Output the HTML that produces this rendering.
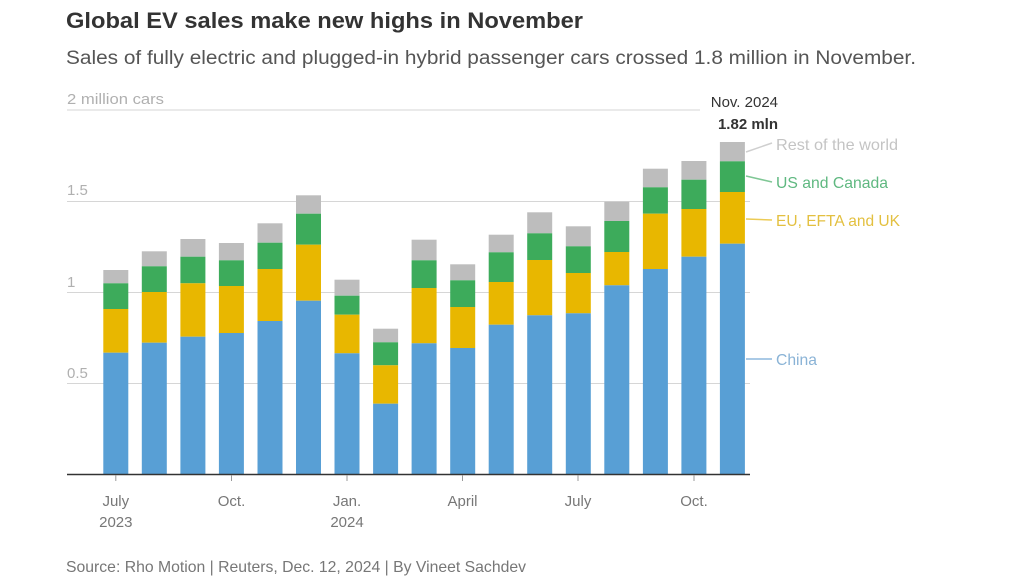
<!DOCTYPE html>
<html><head><meta charset="utf-8"><style>
html,body{margin:0;padding:0;background:#fff;}
svg{display:block;font-family:"Liberation Sans",sans-serif;}
.g{fill:#bdbdbd}.n{fill:#3dab5b}.y{fill:#e8b700}.b{fill:#589fd5}
</style></head><body>
<svg width="1024" height="576" viewBox="0 0 1024 576" xmlns="http://www.w3.org/2000/svg">
<rect width="1024" height="576" fill="#fff"/>
<text x="66" y="28" font-size="22" font-weight="bold" fill="#333" textLength="517" lengthAdjust="spacingAndGlyphs">Global EV sales make new highs in November</text>
<text x="66" y="64" font-size="19" fill="#555" textLength="850" lengthAdjust="spacingAndGlyphs">Sales of fully electric and plugged-in hybrid passenger cars crossed 1.8 million in November.</text>
<g stroke="#d6d6d6" stroke-width="1">
<line x1="67" y1="110" x2="700" y2="110"/>
<line x1="67" y1="201.5" x2="750" y2="201.5"/>
<line x1="67" y1="292.5" x2="750" y2="292.5"/>
<line x1="67" y1="383.5" x2="750" y2="383.5"/>
</g>
<g font-size="15" fill="#b0b0b0">
<text x="67" y="104" textLength="97" lengthAdjust="spacingAndGlyphs">2 million cars</text>
<text x="67" y="195">1.5</text>
<text x="67" y="287">1</text>
<text x="67" y="378">0.5</text>
</g>
<g transform="translate(103.3,0)"><rect class="g" x="0" width="25" y="270" height="13.3"/><rect class="n" x="0" width="25" y="283.3" height="25.7"/><rect class="y" x="0" width="25" y="309" height="43.7"/><rect class="b" x="0" width="25" y="352.7" height="121.3"/></g>
<g transform="translate(141.8,0)"><rect class="g" x="0" width="25" y="251.3" height="15"/><rect class="n" x="0" width="25" y="266.3" height="25.7"/><rect class="y" x="0" width="25" y="292" height="50.7"/><rect class="b" x="0" width="25" y="342.7" height="131.3"/></g>
<g transform="translate(180.4,0)"><rect class="g" x="0" width="25" y="239" height="17.7"/><rect class="n" x="0" width="25" y="256.7" height="26.6"/><rect class="y" x="0" width="25" y="283.3" height="53.4"/><rect class="b" x="0" width="25" y="336.7" height="137.3"/></g>
<g transform="translate(218.9,0)"><rect class="g" x="0" width="25" y="243" height="17.3"/><rect class="n" x="0" width="25" y="260.3" height="25.7"/><rect class="y" x="0" width="25" y="286" height="47"/><rect class="b" x="0" width="25" y="333" height="141"/></g>
<g transform="translate(257.5,0)"><rect class="g" x="0" width="25" y="223.3" height="19.4"/><rect class="n" x="0" width="25" y="242.7" height="26.3"/><rect class="y" x="0" width="25" y="269" height="52"/><rect class="b" x="0" width="25" y="321" height="153"/></g>
<g transform="translate(296,0)"><rect class="g" x="0" width="25" y="195.3" height="18.4"/><rect class="n" x="0" width="25" y="213.7" height="31"/><rect class="y" x="0" width="25" y="244.7" height="56"/><rect class="b" x="0" width="25" y="300.7" height="173.3"/></g>
<g transform="translate(334.5,0)"><rect class="g" x="0" width="25" y="279.7" height="16"/><rect class="n" x="0" width="25" y="295.7" height="19"/><rect class="y" x="0" width="25" y="314.7" height="38.6"/><rect class="b" x="0" width="25" y="353.3" height="120.7"/></g>
<g transform="translate(373.1,0)"><rect class="g" x="0" width="25" y="328.7" height="13.6"/><rect class="n" x="0" width="25" y="342.3" height="23"/><rect class="y" x="0" width="25" y="365.3" height="38.4"/><rect class="b" x="0" width="25" y="403.7" height="70.3"/></g>
<g transform="translate(411.6,0)"><rect class="g" x="0" width="25" y="239.7" height="20.6"/><rect class="n" x="0" width="25" y="260.3" height="27.7"/><rect class="y" x="0" width="25" y="288" height="55.3"/><rect class="b" x="0" width="25" y="343.3" height="130.7"/></g>
<g transform="translate(450.2,0)"><rect class="g" x="0" width="25" y="264.3" height="16"/><rect class="n" x="0" width="25" y="280.3" height="26.7"/><rect class="y" x="0" width="25" y="307" height="41"/><rect class="b" x="0" width="25" y="348" height="126"/></g>
<g transform="translate(488.7,0)"><rect class="g" x="0" width="25" y="234.7" height="17.6"/><rect class="n" x="0" width="25" y="252.3" height="29.7"/><rect class="y" x="0" width="25" y="282" height="42.7"/><rect class="b" x="0" width="25" y="324.7" height="149.3"/></g>
<g transform="translate(527.2,0)"><rect class="g" x="0" width="25" y="212.3" height="21"/><rect class="n" x="0" width="25" y="233.3" height="26.7"/><rect class="y" x="0" width="25" y="260" height="55.3"/><rect class="b" x="0" width="25" y="315.3" height="158.7"/></g>
<g transform="translate(565.8,0)"><rect class="g" x="0" width="25" y="226.3" height="20"/><rect class="n" x="0" width="25" y="246.3" height="26.7"/><rect class="y" x="0" width="25" y="273" height="40.3"/><rect class="b" x="0" width="25" y="313.3" height="160.7"/></g>
<g transform="translate(604.3,0)"><rect class="g" x="0" width="25" y="201.7" height="19.3"/><rect class="n" x="0" width="25" y="221" height="31"/><rect class="y" x="0" width="25" y="252" height="33.3"/><rect class="b" x="0" width="25" y="285.3" height="188.7"/></g>
<g transform="translate(642.9,0)"><rect class="g" x="0" width="25" y="168.7" height="18.6"/><rect class="n" x="0" width="25" y="187.3" height="26.4"/><rect class="y" x="0" width="25" y="213.7" height="55.3"/><rect class="b" x="0" width="25" y="269" height="205"/></g>
<g transform="translate(681.4,0)"><rect class="g" x="0" width="25" y="161" height="18.7"/><rect class="n" x="0" width="25" y="179.7" height="29.3"/><rect class="y" x="0" width="25" y="209" height="47.7"/><rect class="b" x="0" width="25" y="256.7" height="217.3"/></g>
<g transform="translate(719.9,0)"><rect class="g" x="0" width="25" y="142" height="19.3"/><rect class="n" x="0" width="25" y="161.3" height="30.7"/><rect class="y" x="0" width="25" y="192" height="51.7"/><rect class="b" x="0" width="25" y="243.7" height="230.3"/></g>
<line x1="67" y1="474.5" x2="750" y2="474.5" stroke="#333" stroke-width="1.5"/>
<g stroke="#999" stroke-width="1">
<line x1="115.8" y1="475" x2="115.8" y2="481"/>
<line x1="231.5" y1="475" x2="231.5" y2="481"/>
<line x1="347" y1="475" x2="347" y2="481"/>
<line x1="462.5" y1="475" x2="462.5" y2="481"/>
<line x1="578" y1="475" x2="578" y2="481"/>
<line x1="694" y1="475" x2="694" y2="481"/>
</g>
<g font-size="15" fill="#777" text-anchor="middle">
<text x="115.8" y="506">July</text><text x="115.8" y="527">2023</text>
<text x="231.5" y="506">Oct.</text>
<text x="347" y="506">Jan.</text><text x="347" y="527">2024</text>
<text x="462.5" y="506">April</text>
<text x="578" y="506">July</text>
<text x="694" y="506">Oct.</text>
</g>
<text x="778" y="107" font-size="15" fill="#333" text-anchor="end">Nov. 2024</text>
<text x="778" y="129" font-size="15" font-weight="bold" fill="#333" text-anchor="end">1.82 mln</text>
<g stroke-width="1.5" fill="none">
<path d="M746 152 L772 143" stroke="#cfcfcf"/>
<path d="M746 176 L772 182" stroke="#7fc795"/>
<path d="M746 219 L772 220" stroke="#eccb55"/>
<path d="M746 359 L772 359" stroke="#8db9dd"/>
</g>
<g font-size="16">
<text x="776" y="150" fill="#c4c4c4" textLength="122" lengthAdjust="spacingAndGlyphs">Rest of the world</text>
<text x="776" y="188" fill="#5fb880" textLength="112" lengthAdjust="spacingAndGlyphs">US and Canada</text>
<text x="776" y="226" fill="#e3c040" textLength="124" lengthAdjust="spacingAndGlyphs">EU, EFTA and UK</text>
<text x="776" y="365" fill="#8ab3d6" textLength="41" lengthAdjust="spacingAndGlyphs">China</text>
</g>
<text x="66" y="572" font-size="16" fill="#777" textLength="460" lengthAdjust="spacingAndGlyphs">Source: Rho Motion | Reuters, Dec. 12, 2024 | By Vineet Sachdev</text>
</svg>
</body></html>
